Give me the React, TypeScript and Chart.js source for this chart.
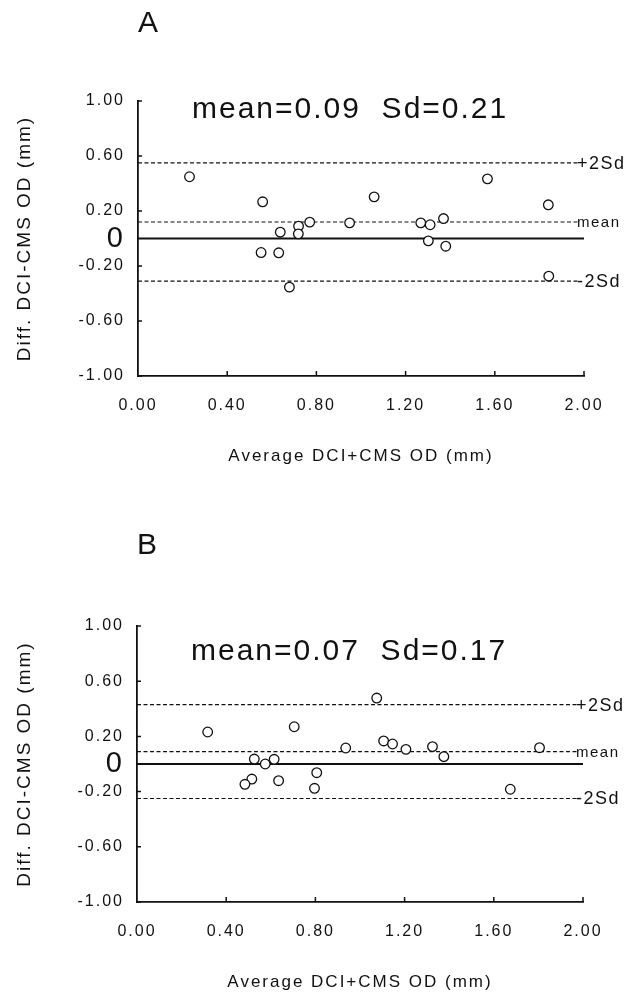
import React, { useEffect, useRef } from 'react';
import { Chart, registerables } from 'chart.js';

Chart.register(...registerables);

// ---------- data ----------
const xTickValues = [0, 0.4, 0.8, 1.2, 1.6, 2.0];
const yTickValues = [-1, -0.6, -0.2, 0, 0.2, 0.6, 1];
const limitLabels = ['+2Sd', 'mean', '-2Sd'];
const xTitle = 'Average DCI+CMS OD (mm)';
const yTitle = 'Diff. DCI-CMS OD (mm)';

const panelALabel = 'A';
const panelAStats = 'mean=0.09  Sd=0.21';
const panelAAvg = [0.231, 0.559, 1.059, 1.567, 1.84, 0.77, 0.949, 1.268, 1.31, 1.37, 0.72, 0.638, 0.719, 0.552, 0.631, 1.302, 1.38, 0.679, 1.842];
const panelADiff = [0.449, 0.267, 0.303, 0.434, 0.245, 0.119, 0.114, 0.114, 0.1, 0.145, 0.09, 0.046, 0.034, -0.102, -0.104, -0.017, -0.056, -0.354, -0.274];
const panelALimits = [0.55, 0.12, -0.31];

const panelBLabel = 'B';
const panelBStats = 'mean=0.07  Sd=0.17';
const panelBAvg = [0.317, 0.705, 1.075, 0.936, 1.106, 1.146, 1.206, 1.325, 1.376, 1.805, 0.526, 0.575, 0.615, 0.515, 0.484, 0.635, 0.806, 0.796, 1.674];
const panelBDiff = [0.232, 0.27, 0.478, 0.116, 0.167, 0.145, 0.106, 0.126, 0.053, 0.118, 0.036, 0.0, 0.034, -0.109, -0.147, -0.121, -0.063, -0.176, -0.183];
const panelBLimits = [0.43, 0.09, -0.25];

// ---------- style ----------
const FONT = "'Liberation Sans', Arial, Helvetica, sans-serif";
const INK = '#111';
const W = 631;
const XH = 95;

type Area = { left: number; right: number; top: number; bottom: number };

type PanelProps = {
  label: string;
  stats: string;
  avg: number[];
  diff: number[];
  limits: number[];
  top: number;
  height: number;
  area: Area;
  statsBaseline: number;
  labelCenter: number;
};

function Panel(p: PanelProps) {
  const ref = useRef<HTMLCanvasElement | null>(null);

  useEffect(() => {
    const canvas = ref.current;
    if (!canvas) return;

    const decor = {
      id: 'decor',
      beforeDraw(chart: any) {
        (chart.ctx as any).letterSpacing = '2px';
      },
      afterDraw(chart: any) {
        const ctx = chart.ctx as any;
        const xs = chart.scales.x;
        const ys = chart.scales.y;
        const ca = chart.chartArea;
        ctx.save();
        // inner tick marks
        ctx.strokeStyle = INK;
        ctx.lineWidth = 1.5;
        ctx.beginPath();
        yTickValues.forEach((v) => {
          if (v === 0) return;
          const py = ys.getPixelForValue(v);
          ctx.moveTo(ca.left, py);
          ctx.lineTo(ca.left + 4, py);
        });
        xTickValues.forEach((v) => {
          if (v === 0) return;
          const px = xs.getPixelForValue(v);
          ctx.moveTo(px, ca.bottom);
          ctx.lineTo(px, ca.bottom - 5);
        });
        ctx.stroke();

        ctx.fillStyle = INK;
        // panel letter
        ctx.letterSpacing = '0px';
        ctx.font = `30px ${FONT}`;
        ctx.textAlign = 'left';
        ctx.textBaseline = 'middle';
        ctx.fillText(p.label, ca.left, ca.top - p.labelCenter);

        // stats text
        ctx.letterSpacing = '2px';
        ctx.font = `30px ${FONT}`;
        ctx.textBaseline = 'alphabetic';
        ctx.fillText(p.stats, ca.left + 54, ca.top + p.statsBaseline);

        // limit labels
        ctx.textBaseline = 'middle';
        const lx = xs.getPixelForValue(2) - 7;
        p.limits.forEach((v, i) => {
          const name = limitLabels[i];
          ctx.letterSpacing = '1.5px';
          ctx.font = name === 'mean' ? `15px ${FONT}` : `18px ${FONT}`;
          ctx.fillText(name, lx, ys.getPixelForValue(v) + 1);
        });
        ctx.restore();
        ctx.letterSpacing = '0px';
      },
    };

    const chart = new Chart(canvas, {
      type: 'scatter',
      data: {
        datasets: [
          {
            type: 'scatter',
            data: p.avg.map((x, i) => ({ x, y: p.diff[i] })),
            pointStyle: 'circle',
            pointRadius: 4.8,
            pointBorderWidth: 1.3,
            borderColor: INK,
            backgroundColor: '#fff',
            order: 0,
          } as any,
          {
            type: 'line',
            data: [
              { x: 0, y: 0 },
              { x: 2, y: 0 },
            ],
            borderColor: INK,
            borderWidth: 1.8,
            pointRadius: 0,
            order: 1,
          } as any,
          ...p.limits.map(
            (v) =>
              ({
                type: 'line',
                data: [
                  { x: 0, y: v },
                  { x: 1.975, y: v },
                ],
                borderColor: INK,
                borderWidth: 1.2,
                borderDash: [4, 2.5],
                pointRadius: 0,
                order: 1,
              }) as any,
          ),
        ],
      },
      options: {
        responsive: false,
        animation: false,
        events: [],
        layout: {
          padding: {
            left: 0,
            right: W - p.area.right,
            top: p.area.top,
            bottom: p.height - p.area.bottom - XH,
          },
        },
        plugins: {
          legend: { display: false },
          tooltip: { enabled: false },
          title: { display: false },
        },
        scales: {
          x: {
            type: 'linear',
            min: 0,
            max: 2,
            afterBuildTicks: (s: any) => {
              s.ticks = xTickValues.map((v) => ({ value: v }));
            },
            afterFit: (s: any) => {
              s.height = XH;
            },
            grid: { display: true, drawOnChartArea: false, drawTicks: false },
            border: { display: true, color: INK, width: 1.8 },
            ticks: {
              autoSkip: false,
              maxRotation: 0,
              padding: 20,
              color: INK,
              font: { family: FONT, size: 16 },
              callback: (v: any) => Number(v).toFixed(2),
            },
            title: {
              display: true,
              text: xTitle,
              color: INK,
              font: { family: FONT, size: 17 },
              padding: { top: 0, bottom: 4 },
            },
          },
          y: {
            type: 'linear',
            min: -1,
            max: 1,
            afterBuildTicks: (s: any) => {
              s.ticks = yTickValues.map((v) => ({ value: v }));
            },
            afterFit: (s: any) => {
              s.width = p.area.left;
            },
            grid: { display: true, drawOnChartArea: false, drawTicks: false },
            border: { display: true, color: INK, width: 1.8 },
            ticks: {
              autoSkip: false,
              padding: 13,
              color: INK,
              font: (c: any) =>
                c.tick && c.tick.value === 0
                  ? { family: FONT, size: 29 }
                  : { family: FONT, size: 16 },
              callback: (v: any) => (Number(v) === 0 ? '0' : Number(v).toFixed(2)),
            },
            title: {
              display: true,
              text: yTitle,
              color: INK,
              font: { family: FONT, size: 19 },
              padding: { top: 13, bottom: 0 },
            },
          },
        },
      } as any,
      plugins: [decor],
    });

    return () => chart.destroy();
  }, []);

  return (
    <canvas
      ref={ref}
      width={W}
      height={p.height}
      style={{ position: 'absolute', left: 0, top: p.top, width: W, height: p.height }}
    />
  );
}

export default function App() {
  return (
    <div
      style={{
        position: 'absolute',
        left: 0,
        top: 0,
        width: W,
        height: 1001,
        background: '#fff',
        overflow: 'hidden',
      }}
    >
      <Panel
        label={panelALabel}
        stats={panelAStats}
        avg={panelAAvg}
        diff={panelADiff}
        limits={panelALimits}
        top={0}
        height={500}
        area={{ left: 138, right: 584, top: 101, bottom: 376 }}
        statsBaseline={17}
        labelCenter={77}
      />
      <Panel
        label={panelBLabel}
        stats={panelBStats}
        avg={panelBAvg}
        diff={panelBDiff}
        limits={panelBLimits}
        top={500}
        height={501}
        area={{ left: 137, right: 583, top: 126, bottom: 402 }}
        statsBaseline={34}
        labelCenter={80}
      />
    </div>
  );
}
